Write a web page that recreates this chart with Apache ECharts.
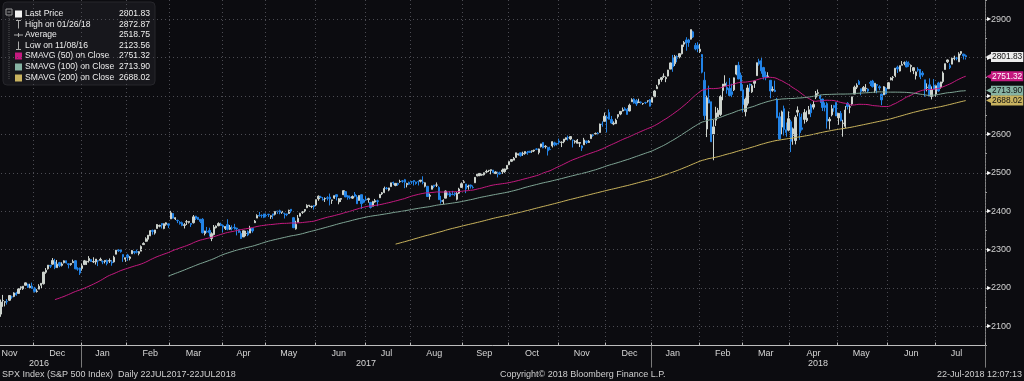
<!DOCTYPE html>
<html>
<head>
<meta charset="utf-8">
<style>
html,body{margin:0;padding:0;background:#0c0c10;}
#chart{width:1024px;height:381px;}
</style>
<script src="https://cdn.jsdelivr.net/npm/echarts@6/dist/echarts.min.js"></script>
</head>
<body>
<div id="chart"></div>
<script>
// ---------------- DATA ----------------
// Daily SPX candles [open, high, low, close], first day 2016-11-08
const ohlc2016 = [
[2130,2147,2123.56,2139.56],[2132,2170,2125,2163.26],[2167,2182,2151,2167.48],[2163,2165,2152,2164.45],
[2165,2171,2157,2164.20],[2168,2180,2166,2180.39],[2177,2180,2172,2176.94],[2178,2189,2176,2187.12],
[2187,2190,2180,2181.90],[2186,2198,2186,2198.18],[2201,2204,2195,2202.94],[2198,2205,2195,2204.72],
[2207,2214,2207,2213.35],[2210,2211,2200,2201.72],[2201,2211,2199,2204.66],[2205,2214,2198,2198.81],
[2200,2203,2188,2191.08],[2191,2197,2188,2191.95],[2197,2210,2197,2204.71],[2207,2212,2200,2212.23],
[2211,2242,2209,2241.35],[2241,2252,2237,2246.19],[2250,2259,2248,2259.53],[2259,2259,2252,2256.96],
[2262,2278,2261,2271.72],[2268,2276,2249,2253.28],[2253,2273,2253,2262.03],[2266,2268,2254,2258.07],
[2259,2267,2256,2262.53],[2266,2272,2264,2270.76],[2271,2271,2264,2265.18],[2263,2264,2251,2260.96],
[2261,2264,2258,2263.79],[2266,2274,2266,2268.88],[2271,2272,2249,2249.92],[2250,2254,2245,2249.26],
[2252,2253,2234,2238.83]
];
const ohlc2017 = [
[2251,2264,2245,2257.83],[2261,2273,2261,2270.75],[2268,2271,2260,2269.00],[2271,2283,2266,2276.98],
[2274,2275,2268,2268.90],[2268,2280,2265,2268.90],[2268,2275,2261,2275.32],[2271,2272,2257,2270.44],
[2272,2279,2271,2274.64],[2269,2272,2262,2267.89],[2269,2272,2264,2271.89],[2272,2274,2259,2263.69],
[2270,2277,2265,2271.31],[2268,2273,2258,2265.20],[2268,2284,2266,2280.07],[2288,2299,2288,2298.37],
[2299,2301,2294,2296.68],[2299,2300,2292,2294.69],[2287,2287,2268,2280.90],[2275,2279,2268,2278.87],
[2286,2289,2271,2279.55],[2277,2283,2272,2280.85],[2289,2299,2289,2297.42],[2295,2296,2288,2292.56],
[2295,2300,2290,2293.08],[2290,2296,2285,2294.67],[2296,2311,2296,2307.87],[2313,2319,2312,2316.10],
[2321,2332,2321,2328.25],[2327,2338,2321,2337.58],[2336,2351,2335,2349.25],[2350,2352,2339,2347.22],
[2343,2351,2339,2351.16],[2355,2366,2355,2365.38],[2361,2365,2358,2362.82],[2368,2368,2355,2363.81],
[2355,2368,2353,2367.34],[2366,2371,2362,2369.75],[2367,2367,2356,2363.64],
[2380,2401,2380,2395.96],[2394,2395,2381,2381.92],[2380,2384,2377,2383.12],[2376,2378,2369,2375.31],
[2371,2374,2365,2368.39],[2370,2373,2361,2362.98],[2363,2369,2355,2364.87],[2372,2377,2364,2372.60],
[2371,2374,2368,2373.47],[2368,2369,2359,2365.45],[2370,2390,2368,2385.26],[2387,2388,2377,2381.38],
[2384,2385,2377,2378.25],[2379,2380,2369,2373.47],[2379,2382,2342,2344.02],[2342,2349,2337,2348.45],
[2347,2359,2344,2345.96],[2350,2357,2334,2343.98],[2329,2345,2322,2341.59],[2339,2364,2337,2358.57],
[2357,2363,2355,2361.13],[2362,2371,2361,2368.06],[2366,2370,2362,2362.72],
[2363,2365,2345,2358.84],[2355,2361,2351,2360.16],[2365,2379,2350,2352.95],[2353,2364,2351,2357.49],
[2356,2363,2350,2355.54],[2358,2367,2352,2357.16],[2356,2356,2337,2353.78],[2352,2353,2343,2344.93],
[2342,2348,2328,2328.95],[2333,2349,2333,2349.01],[2342,2349,2335,2342.19],[2347,2350,2335,2338.17],
[2343,2362,2343,2355.84],[2355,2356,2344,2348.69],[2370,2377,2370,2374.15],[2382,2392,2382,2388.61],
[2389,2398,2386,2387.45],[2389,2392,2383,2388.77],[2393,2393,2382,2384.20],
[2389,2394,2384,2388.33],[2392,2393,2385,2391.17],[2386,2389,2380,2388.13],[2393,2393,2380,2389.52],
[2392,2399,2389,2399.29],[2400,2401,2393,2399.38],[2401,2404,2392,2396.92],[2397,2399,2393,2399.63],
[2395,2395,2381,2394.44],[2393,2393,2387,2390.90],[2394,2404,2393,2402.32],[2405,2405,2396,2400.67],
[2383,2385,2356,2357.03],[2354,2375,2352,2365.72],[2371,2390,2371,2381.73],[2387,2396,2386,2394.02],
[2397,2400,2393,2398.42],[2401,2405,2397,2404.39],[2409,2418,2408,2415.07],[2414,2416,2411,2415.82],
[2412,2414,2408,2412.91],[2415,2416,2404,2411.80],
[2416,2430,2413,2430.06],[2432,2441,2427,2439.07],[2437,2440,2434,2436.10],[2431,2437,2428,2429.33],
[2432,2436,2424,2433.14],[2435,2439,2428,2433.79],[2437,2446,2415,2431.77],[2428,2430,2419,2429.39],
[2434,2441,2432,2440.35],[2443,2444,2428,2437.92],[2424,2434,2418,2432.46],[2431,2434,2424,2433.15],
[2443,2454,2443,2453.46],[2451,2451,2437,2437.03],[2440,2442,2430,2435.61],[2437,2441,2431,2434.50],
[2434,2441,2432,2438.30],[2444,2450,2436,2439.07],[2437,2442,2419,2419.38],[2428,2441,2428,2440.69],
[2443,2443,2406,2419.70],[2429,2432,2421,2423.41],
[2431,2440,2428,2429.01],[2430,2435,2422,2432.54],[2423,2424,2407,2409.75],[2413,2427,2413,2425.18],
[2424,2432,2422,2427.43],[2427,2430,2413,2425.53],[2435,2445,2435,2443.25],[2445,2450,2442,2447.83],
[2449,2464,2447,2459.27],[2460,2463,2456,2459.14],[2455,2461,2452,2460.61],[2464,2474,2464,2473.83],
[2475,2477,2468,2473.45],[2467,2473,2465,2472.54],[2472,2474,2466,2469.91],[2477,2482,2474,2477.13],
[2479,2481,2474,2477.83],[2482,2484,2460,2475.42],[2469,2474,2462,2472.10],[2475,2477,2468,2470.30],
[2477,2478,2471,2476.35],[2480,2480,2467,2477.57],[2476,2477,2469,2472.16],[2477,2480,2467,2476.83],
[2478,2481,2475,2480.91],[2476,2491,2470,2474.92],[2465,2475,2462,2474.02],[2465,2465,2437,2438.21],
[2439,2446,2430,2441.32],[2457,2467,2457,2465.84],[2468,2468,2460,2464.61],[2468,2475,2463,2468.11],
[2462,2465,2430,2430.01],[2428,2440,2420,2425.55],[2425,2431,2418,2428.37],[2434,2454,2434,2452.51],
[2445,2449,2441,2444.04],[2447,2452,2437,2438.97],[2444,2453,2442,2443.05],[2447,2449,2439,2444.24],
[2431,2450,2428,2446.30],[2447,2461,2445,2457.59],[2462,2475,2462,2471.65],
[2475,2481,2473,2476.55],[2471,2471,2447,2457.85],[2463,2469,2456,2465.54],[2468,2469,2459,2465.10],
[2462,2467,2459,2461.43],[2474,2489,2474,2488.11],[2492,2497,2491,2496.48],[2493,2499,2491,2498.37],
[2494,2499,2492,2495.62],[2495,2500,2493,2500.23],[2502,2508,2499,2503.87],[2506,2507,2502,2506.65],
[2506,2508,2496,2508.24],[2507,2507,2498,2500.60],[2498,2504,2497,2502.22],[2500,2503,2488,2496.66],
[2500,2503,2495,2496.84],[2503,2511,2497,2507.04],[2503,2510,2500,2510.06],[2510,2520,2508,2519.36],
[2521,2529,2520,2529.12],[2530,2535,2528,2534.58],[2533,2541,2533,2537.74],[2540,2552,2540,2552.07],
[2547,2550,2545,2549.33],[2552,2552,2542,2544.73],[2549,2555,2544,2550.64],[2550,2555,2547,2555.24],
[2553,2557,2547,2550.93],[2556,2557,2552,2553.17],[2556,2558,2552,2557.64],[2557,2560,2554,2559.36],
[2562,2564,2559,2561.26],[2553,2563,2548,2562.10],[2568,2575,2566,2575.21],[2579,2579,2564,2564.98],
[2568,2572,2563,2569.13],[2566,2568,2545,2557.15],[2561,2568,2559,2560.40],[2570,2582,2566,2581.07],
[2578,2581,2569,2572.83],[2576,2578,2571,2575.26],
[2583,2589,2574,2579.36],[2579,2582,2567,2579.85],[2581,2588,2577,2587.84],[2587,2592,2585,2591.13],
[2592,2597,2584,2590.64],[2588,2594,2585,2594.38],[2585,2586,2566,2584.62],[2580,2585,2576,2582.30],
[2577,2588,2576,2584.84],[2577,2579,2567,2578.87],[2570,2572,2557,2564.62],[2573,2591,2573,2585.64],
[2583,2583,2575,2578.85],[2579,2585,2578,2582.14],[2589,2601,2589,2599.03],[2600,2601,2594,2597.08],
[2601,2605,2600,2602.42],[2603,2606,2598,2601.42],[2605,2628,2605,2627.04],[2627,2634,2620,2626.07],
[2634,2657,2634,2647.58],
[2645,2650,2605,2642.22],[2657,2665,2639,2639.44],[2639,2648,2627,2629.57],[2627,2634,2624,2629.27],
[2628,2641,2627,2636.98],[2646,2652,2641,2651.50],[2653,2660,2650,2659.99],[2661,2670,2660,2664.11],
[2667,2671,2662,2662.85],[2665,2669,2652,2652.01],[2661,2680,2660,2675.81],[2685,2694,2685,2690.16],
[2692,2694,2680,2681.47],[2688,2692,2674,2679.25],[2683,2693,2683,2684.57],[2684,2686,2680,2683.34],
[2680,2682,2677,2680.50],[2683,2685,2679,2682.62],[2687,2688,2683,2687.54],[2690,2692,2673,2673.61]
];
const ohlc2018 = [
[2684,2696,2683,2695.81],[2698,2715,2698,2713.06],[2719,2729,2719,2723.99],[2731,2744,2728,2743.15],
[2743,2749,2737,2747.71],[2751,2759,2747,2751.29],[2745,2751,2736,2748.23],[2752,2768,2751,2767.56],
[2770,2787,2770,2786.24],[2799,2807,2763,2776.42],[2784,2807,2778,2802.56],[2803,2806,2788,2798.03],
[2802,2810,2798,2810.30],[2810,2833,2808,2832.97],[2835,2843,2828,2839.13],[2846,2853,2818,2837.54],
[2846,2849,2828,2839.25],[2848,2872.87,2847,2872.87],[2867,2870,2851,2853.53],[2832,2838,2819,2822.43],
[2832,2840,2814,2823.81],
[2816,2836,2812,2821.98],[2808,2809,2759,2762.13],[2741,2763,2638,2648.94],[2614,2701,2593,2695.14],
[2690,2727,2681,2681.66],[2685,2685,2580,2581.00],[2601,2638,2532.69,2619.55],[2637,2672,2622,2656.00],
[2646,2669,2646,2662.94],[2652,2702,2648,2698.63],[2714,2731,2689,2731.20],[2727,2754,2725,2732.22],
[2722,2737,2706,2716.26],[2720,2747,2701,2701.33],[2711,2732,2697,2703.96],[2716,2748,2713,2747.30],
[2757,2780,2754,2779.60],[2780,2789,2744,2744.28],[2754,2761,2713,2713.83],
[2716,2730,2659,2677.67],[2659,2696,2647,2691.25],[2681,2729,2675,2720.94],[2731,2732,2711,2728.12],
[2711,2731,2708,2726.80],[2733,2741,2721,2738.97],[2753,2787,2753,2786.57],[2791,2797,2779,2783.02],
[2792,2802,2758,2765.31],[2774,2776,2743,2749.48],[2754,2764,2741,2747.33],[2750,2762,2748,2752.01],
[2741,2741,2694,2712.92],[2715,2725,2711,2716.94],[2715,2740,2710,2711.93],[2691,2695,2642,2643.69],
[2646,2657,2586,2588.26],[2619,2662,2601,2658.55],[2667,2675,2597,2612.62],[2612,2631,2594,2605.00],
[2611,2660,2608,2640.87],
[2633,2638,2554,2581.88],[2597,2618,2573,2614.45],[2584,2650,2574,2644.69],[2658,2673,2647,2662.84],
[2645,2656,2586,2604.47],[2617,2654,2610,2613.16],[2639,2666,2628,2656.87],[2636,2662,2632,2642.19],
[2653,2674,2653,2663.99],[2676,2680,2645,2656.30],[2671,2687,2665,2677.84],[2697,2713,2692,2706.39],
[2707,2717,2703,2708.64],[2700,2703,2682,2693.13],[2692,2693,2661,2670.14],[2675,2683,2660,2670.29],
[2680,2684,2615,2634.56],[2635,2645,2613,2639.40],[2651,2677,2647,2666.94],[2675,2677,2659,2669.91],
[2683,2683,2648,2648.05],
[2643,2655,2625,2654.80],[2655,2661,2634,2635.67],[2628,2638,2594,2629.73],[2621,2674,2616,2663.42],
[2681,2684,2665,2672.63],[2671,2676,2655,2671.92],[2679,2698,2675,2697.79],[2705,2727,2705,2723.07],
[2723,2733,2718,2727.72],[2738,2742,2729,2730.13],[2719,2719,2702,2711.45],[2713,2726,2712,2722.46],
[2719,2731,2711,2720.13],[2718,2720,2709,2712.97],[2735,2740,2726,2733.01],[2739,2742,2722,2724.44],
[2714,2733,2708,2733.29],[2730,2731,2707,2727.76],[2724,2728,2715,2721.33],[2705,2706,2676,2689.86],
[2703,2726,2703,2724.01],[2720,2723,2704,2705.27],
[2719,2736,2719,2734.62],[2742,2749,2741,2746.87],[2748,2752,2740,2748.80],[2753,2772,2749,2772.35],
[2775,2779,2760,2770.37],[2765,2779,2764,2779.03],[2780,2791,2780,2782.00],[2785,2790,2780,2786.85],
[2788,2792,2775,2775.63],[2784,2790,2776,2782.49],[2777,2782,2762,2779.66],[2766,2775,2757,2773.75],
[2753,2764,2743,2762.59],[2770,2775,2763,2767.32],[2769,2770,2744,2749.76],[2760,2765,2750,2754.88],
[2742,2742,2698,2717.07],[2722,2733,2712,2723.06],[2729,2746,2699,2699.63],[2699,2725,2691,2716.31],
[2728,2744,2718,2718.37],
[2705,2727,2698,2726.71],[2734,2737,2711,2713.22],[2724,2737,2719,2736.61],[2738,2764,2733,2759.82],
[2769,2784,2769,2784.17],[2789,2795,2786,2793.84],[2779,2785,2770,2774.02],[2783,2800,2783,2798.29],
[2797,2805,2793,2801.31],[2799,2802,2793,2798.43],[2789,2814,2789,2809.55],[2811,2817,2806,2815.62],
[2809,2810,2795,2804.49],[2805,2808,2795,2801.83]
];
// closes before the visible window (2016-10-05 .. 2016-11-07), used by the moving averages
const preCloses = [2159.73,2160.77,2153.74,2163.66,2136.73,2139.18,2132.55,2132.98,2126.50,2139.60,
2144.29,2141.34,2141.16,2151.33,2143.16,2139.43,2133.04,2126.41,2126.15,2111.72,2097.94,2088.66,2085.18,2131.52];
const firstDay = '2016-11-08';
const holidays = ['2016-11-24','2016-12-26','2017-01-02','2017-01-16','2017-02-20','2017-04-14','2017-05-29',
'2017-07-04','2017-09-04','2017-11-23','2017-12-25','2018-01-01','2018-01-15','2018-02-19','2018-03-30',
'2018-05-28','2018-07-04'];
const padDays = 8;
const monthNames = ['Jan','Feb','Mar','Apr','May','Jun','Jul','Aug','Sep','Oct','Nov','Dec'];
const yTicks = [2100,2200,2300,2400,2500,2600,2700,2800,2900];
const legendLabels = ['Last Price','High on 01/26/18','Average','Low on 11/08/16','SMAVG (50) on Close','SMAVG (100) on Close','SMAVG (200) on Close'];
const legendValues = ['2801.83','2872.87','2518.75','2123.56','2751.32','2713.90','2688.02'];
const smaPeriods = [50,100,200];
const footerLeft = 'SPX Index (S&P 500 Index)  Daily 22JUL2017-22JUL2018';
const footerMid = 'Copyright\u00a9 2018 Bloomberg Finance L.P.';
const footerRight = '22-Jul-2018 12:07:13';

// ---------------- BUILD ----------------
const ohlc = ohlc2016.concat(ohlc2017, ohlc2018);
const closes = ohlc.map(r => r[3]);
const hol = new Set(holidays);
const dates = [];
(function(){
  const d = new Date(firstDay + 'T00:00:00Z');
  while (dates.length < ohlc.length) {
    const wd = d.getUTCDay(); const s = d.toISOString().slice(0,10);
    if (wd !== 0 && wd !== 6 && !hol.has(s)) dates.push(s);
    d.setUTCDate(d.getUTCDate() + 1);
  }
})();
const cats = dates.slice();
for (let i = 0; i < padDays; i++) cats.push('pad' + i);
const N = cats.length;
const isDate = i => i < dates.length;
const monthStart = i => i > 0 && isDate(i) && dates[i].slice(0,7) !== dates[i-1].slice(0,7);
const yearStart = i => i > 0 && isDate(i) && dates[i].slice(0,4) !== dates[i-1].slice(0,4);
const monthMid = new Set();
{ let cur = ''; for (let i = 0; i < dates.length; i++) { const m = dates[i].slice(0,7);
  if (m !== cur && +dates[i].slice(8,10) >= 15) { monthMid.add(i); cur = m; } } }
const yearStarts = [0]; for (let i = 1; i < dates.length; i++) if (yearStart(i)) yearStarts.push(i);
yearStarts.push(N);
const yearMid = new Set(); for (let k = 0; k < yearStarts.length - 1; k++) yearMid.add(Math.floor((yearStarts[k] + yearStarts[k+1]) / 2));

const allCloses = preCloses.concat(closes);
function sma(n) {
  return closes.map((_, i) => { const j = i + preCloses.length; if (j < n - 1) return null;
    let s = 0; for (let k = j - n + 1; k <= j; k++) s += allCloses[k]; return +(s / n).toFixed(2); });
}
const candle = ohlc.map(r => [r[0], r[3], r[2], r[1]]);

const FONT = 'Liberation Sans';
const smaColors = ['#c4197f', '#7fa595', '#c9b35c'];
const tagVals = [legendValues[0], legendValues[4], legendValues[5], legendValues[6]];
const tagBg = ['#ececec', '#c4197f', '#86b3a3', '#c9b35f'];
const tagFg = ['#111111', '#ffffff', '#111111', '#111111'];
const tagAxes = tagVals.map((t, i) => ({
  type: 'value', position: 'right', min: 2050, max: 2950, z: 20 + i,
  axisLine: {show: false}, axisTick: {show: false}, splitLine: {show: false},
  axisLabel: {show: true, margin: 1, hideOverlap: false, showMinLabel: true, showMaxLabel: true,
    customValues: [Number(t)],
    formatter: () => '{a|\u25c0}{b|' + t + '}',
    rich: {a: {color: tagBg[i], fontSize: 10, fontFamily: 'DejaVu Sans', width: 5, lineHeight: 12},
           b: {backgroundColor: tagBg[i], color: tagFg[i], fontSize: 8.4, fontFamily: FONT, padding: [1, 1, 1, 1], lineHeight: 10}}}
}));

// legend graphic
const LF = '8.6px ' + FONT;
const lg = [];
lg.push({type: 'rect', shape: {x: 3, y: 2, width: 152, height: 83, r: 4}, style: {fill: '#17171c', stroke: '#26262b'}});
lg.push({type: 'rect', shape: {x: 6, y: 9, width: 6, height: 6}, style: {fill: 'none', stroke: '#9a9a9a', lineWidth: 1}});
lg.push({type: 'line', shape: {x1: 7.5, y1: 12, x2: 10.5, y2: 12}, style: {stroke: '#9a9a9a'}});
lg.push({type: 'line', shape: {x1: 9, y1: 16, x2: 9, y2: 79}, style: {stroke: '#555', lineDash: [1, 1]}});
const rowsY = [14, 24.5, 35, 45.5, 56, 67, 78];
const iconFill = ['#f2f2f2', null, null, null, smaColors[0], '#86b3a3', '#c9b35f'];
rowsY.forEach((y, i) => {
  if (iconFill[i]) lg.push({type: 'rect', shape: {x: 15, y: y - 3.5, width: 7, height: 7}, style: {fill: iconFill[i]}});
  lg.push({type: 'text', style: {x: 25, y: y, text: legendLabels[i], fill: '#eeeeee', font: LF, textVerticalAlign: 'middle'}});
  lg.push({type: 'text', style: {x: 150, y: y, text: legendValues[i], fill: '#eeeeee', font: LF, textAlign: 'right', textVerticalAlign: 'middle'}});
});
lg.push({type: 'line', shape: {x1: 18.5, y1: 20.5, x2: 18.5, y2: 28.5}, style: {stroke: '#aaa'}});
lg.push({type: 'line', shape: {x1: 16, y1: 20.5, x2: 21, y2: 20.5}, style: {stroke: '#aaa'}});
lg.push({type: 'line', shape: {x1: 14, y1: 35, x2: 23, y2: 35}, style: {stroke: '#aaa'}});
lg.push({type: 'line', shape: {x1: 18.5, y1: 33, x2: 18.5, y2: 37}, style: {stroke: '#aaa'}});
lg.push({type: 'line', shape: {x1: 18.5, y1: 41.5, x2: 18.5, y2: 49.5}, style: {stroke: '#aaa'}});
lg.push({type: 'line', shape: {x1: 16, y1: 49.5, x2: 21, y2: 49.5}, style: {stroke: '#aaa'}});

const footer = [
  {type: 'text', style: {x: 2, y: 375, text: footerLeft, fill: '#d0d0d0', font: '9px ' + FONT, textVerticalAlign: 'middle'}},
  {type: 'text', style: {x: 500, y: 375, text: footerMid, fill: '#d0d0d0', font: '9px ' + FONT, textVerticalAlign: 'middle'}},
  {type: 'text', style: {x: 1022, y: 375, text: footerRight, fill: '#d0d0d0', font: '9px ' + FONT, textAlign: 'right', textVerticalAlign: 'middle'}}
];

const GRID_C = '#4c4c53';
const chart = echarts.init(document.getElementById('chart'), null, {renderer: 'canvas'});
chart.setOption({
  animation: false,
  backgroundColor: '#0c0c10',
  textStyle: {fontFamily: FONT},
  grid: {left: -3, right: 39, top: 0, bottom: 35.4, containLabel: false, outerBoundsMode: 'none'},
  xAxis: [
    {type: 'category', data: cats, boundaryGap: true, position: 'bottom',
     axisLine: {show: true, lineStyle: {color: '#bdbdbd', width: 1}},
     axisTick: {show: true, interval: (i) => monthStart(i), inside: true, length: 3, lineStyle: {color: '#bdbdbd'}},
     axisLabel: {show: true, interval: (i) => monthMid.has(i), formatter: v => v.startsWith('pad') ? '' : monthNames[+v.slice(5,7) - 1], color: '#d6d6d6', fontSize: 9, margin: 3},
     splitLine: {show: true, interval: (i) => monthStart(i), lineStyle: {color: GRID_C, type: [1, 3], width: 1}}},
    {type: 'category', data: cats, boundaryGap: true, position: 'bottom', offset: 0,
     axisLine: {show: false},
     axisTick: {show: true, interval: (i) => yearStart(i), inside: false, length: 22, lineStyle: {color: '#7a7a7a'}},
     axisLabel: {show: true, interval: (i) => yearMid.has(i), formatter: v => v.slice(0,4), color: '#d6d6d6', fontSize: 9, margin: 13},
     splitLine: {show: false}}
  ],
  yAxis: [
    {type: 'value', position: 'right', min: 2050, max: 2950, interval: 50,
     axisLine: {show: true, lineStyle: {color: '#858585', type: [2, 1]}},
     axisTick: {show: true, inside: false, length: 2, lineStyle: {color: '#9a9a9a'}},
     axisLabel: {show: true, margin: 2, formatter: v => yTicks.indexOf(v) >= 0 ? '{t|\u25b8}{v|' + v + '}' : '',
       rich: {t: {color: '#ffffff', fontSize: 8, fontFamily: 'DejaVu Sans'}, v: {color: '#d2d2d2', fontSize: 9, fontFamily: FONT}}},
     splitLine: {show: false}}
  ].concat(tagAxes),
  graphic: lg.concat(footer),
  series: [
    {type: 'line', data: [], xAxisIndex: 0, yAxisIndex: 0, z: 1, silent: true,
     markLine: {silent: true, symbol: ['none', 'none'], label: {show: false},
       lineStyle: {color: GRID_C, type: [1, 3], width: 1}, data: yTicks.map(v => ({yAxis: v}))}},
    {type: 'candlestick', data: candle, xAxisIndex: 0, yAxisIndex: 0, z: 3, barWidth: '80%',
     itemStyle: {color: '#cdd3cd', color0: '#2283e6', borderColor: '#cdd3cd', borderColor0: '#2283e6', borderWidth: 1}},
    ...smaPeriods.map((n, k) => ({type: 'line', data: sma(n), xAxisIndex: 0, yAxisIndex: 0, z: 4, showSymbol: false, symbol: 'none',
      connectNulls: false, lineStyle: {color: smaColors[k], width: 1}}))
  ]
});
</script>
</body>
</html>
